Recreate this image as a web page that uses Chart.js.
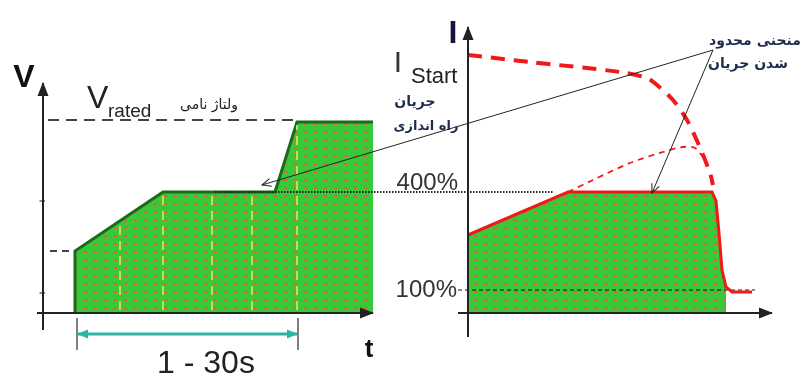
<!DOCTYPE html>
<html lang="fa">
<head>
<meta charset="UTF-8">
<title>Soft start - voltage and current</title>
<script src="https://cdn.jsdelivr.net/npm/chart.js"></script>
<style>
  body { margin: 0; background: #fff; }
  canvas { display: block; }
</style>
</head>
<body>
<canvas id="softStart" width="809" height="378"></canvas>
<script>
// both hidden scales use the same step (10 px), origin = corner of the V / t axes

// left panel: motor voltage during soft start
const voltTime  = [3.2, 3.2, 12, 23.2, 25.4, 33];
const voltLevel = [0, 6.2, 12.1, 12.1, 19.1, 19.1];
const vRated = 19.3;
const vInitial = 6.2;
const voltTicks = [11.2, 2.0];
const markTimes = [7.7, 12, 16.9, 20.9, 25.4];
const spanStart = 3.4, spanEnd = 25.5;

// right panel: motor current
const curTime  = [42.5, 52.5, 66.9, 67.3, 67.6, 67.9, 68.3, 68.9, 70.9];
const curLevel = [7.8, 12.1, 12.1, 11.2, 8.0, 4.3, 2.6, 2.1, 2.1];
const dolTime  = [42.5, 48.7, 57.7, 60.4, 61.4, 63.0, 64.4, 65.5, 66.7, 67.0];
const dolLevel = [25.8, 25.1, 24.1, 23.5, 22.8, 21.3, 19.3, 17.0, 14.0, 12.8];
const rampTime  = [52.5, 55.0, 58.7, 62.0, 64.0, 65.2, 66.0];
const rampLevel = [12.1, 13.3, 15.0, 16.1, 16.6, 16.5, 15.6];
const curTickLabels = ['400%', '100%'];
const curTickValues = [12.1, 2.3];
const curAxisAt = 42.5;

const pts = (xs, ys) => xs.map((x, i) => ({x: x, y: ys[i]}));
function levelAt(xs, ys, t) {
    for (let i = xs.length - 1; i > 0; i--) {
        if (t >= xs[i - 1] && t <= xs[i] && xs[i] > xs[i - 1]) {
            return ys[i - 1] + (ys[i] - ys[i - 1]) * (t - xs[i - 1]) / (xs[i] - xs[i - 1]);
        }
    }
    return 0;
}

// green fill with small red dots
function dotPattern() {
    const c = document.createElement('canvas');
    c.width = 10; c.height = 8;
    const g = c.getContext('2d');
    g.fillStyle = '#38c838';
    g.fillRect(0, 0, 10, 8);
    g.fillStyle = '#cf6a3a';
    g.fillRect(4, 3, 3, 2);
    return g.createPattern(c, 'repeat');
}
const greenDots = dotPattern();

const datasets = [];
function add(points, style) {
    datasets.push(Object.assign({
        data: points, pointRadius: 0, fill: false, tension: 0,
        borderWidth: 2, borderColor: '#222', order: -datasets.length
    }, style));
}

// left panel
add(pts(voltTime, voltLevel), {borderColor: '#1b6b1b', borderWidth: 3, fill: {value: 0}, backgroundColor: greenDots});
markTimes.forEach(t => add([{x: t, y: 0.3}, {x: t, y: levelAt(voltTime, voltLevel, t) - 0.3}],
    {borderColor: '#d2d84e', borderWidth: 2, borderDash: [9, 6]}));
add([{x: 0.5, y: vRated}, {x: 25.2, y: vRated}], {borderColor: '#444', borderDash: [11, 7]});
add([{x: 0.7, y: vInitial}, {x: 3.2, y: vInitial}], {borderColor: '#444', borderDash: [7, 5]});
voltTicks.forEach(v => add([{x: -0.35, y: v}, {x: 0.2, y: v}], {borderColor: '#666', borderWidth: 1.5}));

// right panel
const fillPart = pts(curTime, curLevel).filter(p => p.x <= 68.3);
add(fillPart, {borderWidth: 0, borderColor: 'rgba(0,0,0,0)', fill: {value: 0}, backgroundColor: greenDots});
add([{x: 17.2, y: curTickValues[0]}, {x: 51.0, y: curTickValues[0]}], {borderColor: '#222', borderWidth: 2, borderDash: [1.5, 1.5]});
add([{x: 41.5, y: curTickValues[1]}, {x: 71.2, y: curTickValues[1]}], {borderColor: '#111', borderWidth: 1, borderDash: [4, 3]});
add(pts(rampTime, rampLevel), {borderColor: '#f01818', borderWidth: 1.8, borderDash: [6, 5], tension: 0.3});
add(pts(dolTime, dolLevel), {borderColor: '#f01818', borderWidth: 4, borderDash: [14, 9], tension: 0.3});
add(pts(curTime, curLevel), {borderColor: '#f01818', borderWidth: 3});

// axes
const arrowSolid = {len: 13, width: 11};
add([{x: 0, y: -1.7}, {x: 0, y: 23.0}], {arrow: arrowSolid});
add([{x: -0.6, y: 0}, {x: 33.0, y: 0}], {arrow: arrowSolid});
add([{x: curAxisAt, y: -2.4}, {x: curAxisAt, y: 28.6}], {arrow: arrowSolid});
add([{x: 41.5, y: 0}, {x: 72.9, y: 0}], {arrow: arrowSolid});

// 1 - 30s span
add([{x: spanStart, y: -0.5}, {x: spanStart, y: -3.7}], {borderColor: '#555', borderWidth: 1.5});
add([{x: spanEnd, y: -0.5}, {x: spanEnd, y: -3.7}], {borderColor: '#555', borderWidth: 1.5});
add([{x: spanStart + 0.1, y: -2.1}, {x: spanEnd - 0.1, y: -2.1}], {borderColor: '#2bb5a6', borderWidth: 3, arrow: {len: 10, width: 9, both: true}});

// callout arrows
add([{x: 67.0, y: 26.3}, {x: 21.9, y: 12.8}], {borderColor: '#222', borderWidth: 1, arrow: {len: 9, width: 8, open: true}});
add([{x: 67.0, y: 26.3}, {x: 60.9, y: 12.0}], {borderColor: '#222', borderWidth: 1, arrow: {len: 9, width: 8, open: true}});

const labels = [
    {text: 'V', x: -1.9, y: 22.6, font: 'bold 32px Arial', color: '#111'},
    {text: 'V', x: 4.4, y: 20.5, font: '32px Arial', color: '#222', align: 'left'},
    {text: 'rated', x: 6.5, y: 19.6, font: '19px Arial', color: '#222', align: 'left'},
    {text: 'ولتاژ نامی', x: 16.6, y: 20.4, font: '14px "DejaVu Sans"', color: '#222'},
    {text: 't', x: 32.6, y: -4.4, font: 'bold 26px Arial', color: '#111'},
    {text: '1 - 30s', x: 16.3, y: -6.0, font: '32px Arial', color: '#222'},
    {text: 'I', x: 41.0, y: 27.0, font: 'bold 32px Arial', color: '#14143c'},
    {text: 'I', x: 35.5, y: 24.1, font: '30px Arial', color: '#333'},
    {text: 'Start', x: 36.8, y: 23.0, font: '22px Arial', color: '#222', align: 'left'},
    {text: 'جریان', x: 37.2, y: 20.7, font: 'bold 14px "DejaVu Sans"', color: '#1f2d4d'},
    {text: 'راه اندازی', x: 38.3, y: 18.3, font: 'bold 13px "DejaVu Sans"', color: '#1f2d4d'},
    {text: 'منحنی محدود', x: 71.2, y: 26.8, font: 'bold 14px "DejaVu Sans"', color: '#1f2d4d'},
    {text: 'شدن جریان', x: 70.5, y: 24.5, font: 'bold 14px "DejaVu Sans"', color: '#1f2d4d'},
    {text: curTickLabels[0], x: 41.5, y: 12.3, font: '24px Arial', color: '#333', align: 'right'},
    {text: curTickLabels[1], x: 41.4, y: 1.6, font: '24px Arial', color: '#333', align: 'right'}
];

const arrowHeads = {
    id: 'arrowHeads',
    afterDatasetsDraw(chart) {
        const ctx = chart.ctx;
        chart.data.datasets.forEach((ds, i) => {
            if (!ds.arrow) return;
            const el = chart.getDatasetMeta(i).data;
            const n = el.length;
            const ends = [[el[n - 2], el[n - 1]]];
            if (ds.arrow.both) ends.push([el[1], el[0]]);
            ends.forEach(([a, b]) => {
                const ang = Math.atan2(b.y - a.y, b.x - a.x);
                const L = ds.arrow.len, W = ds.arrow.width;
                ctx.save();
                ctx.translate(b.x, b.y);
                ctx.rotate(ang);
                ctx.beginPath();
                if (ds.arrow.open) {
                    ctx.moveTo(-L, -W / 2);
                    ctx.lineTo(0, 0);
                    ctx.lineTo(-L, W / 2);
                    ctx.strokeStyle = ds.borderColor;
                    ctx.lineWidth = 1;
                    ctx.stroke();
                } else {
                    ctx.moveTo(1, 0);
                    ctx.lineTo(-L, -W / 2);
                    ctx.lineTo(-L, W / 2);
                    ctx.closePath();
                    ctx.fillStyle = ds.borderColor;
                    ctx.fill();
                }
                ctx.restore();
            });
        });
    }
};

const textLabels = {
    id: 'textLabels',
    afterDraw(chart) {
        const ctx = chart.ctx;
        const sx = chart.scales.x, sy = chart.scales.y;
        labels.forEach(l => {
            ctx.save();
            ctx.font = l.font;
            ctx.fillStyle = l.color;
            ctx.textAlign = l.align || 'center';
            ctx.textBaseline = 'alphabetic';
            ctx.fillText(l.text, sx.getPixelForValue(l.x), sy.getPixelForValue(l.y));
            ctx.restore();
        });
    }
};

new Chart(document.getElementById('softStart'), {
    type: 'line',
    data: {datasets: datasets},
    options: {
        responsive: false,
        animation: false,
        events: [],
        layout: {padding: 0},
        scales: {
            x: {type: 'linear', min: -4.3, max: 76.6, display: false},
            y: {type: 'linear', min: -6.5, max: 31.3, display: false}
        },
        plugins: {legend: {display: false}, tooltip: {enabled: false}}
    },
    plugins: [arrowHeads, textLabels]
});
</script>
</body>
</html>
